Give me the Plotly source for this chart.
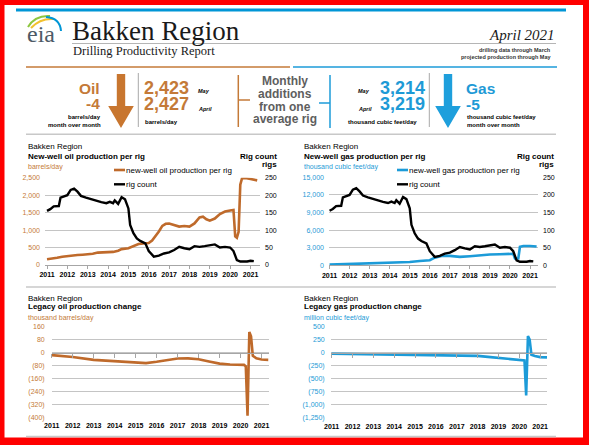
import plotly.graph_objects as go

W, H = 589, 445

# ---- data ------------------------------------------------------------------
oil_dates = ["2011-01-01", "2011-04-01", "2011-07-01", "2011-10-01", "2012-01-01", "2012-04-01",
             "2012-07-01", "2012-10-01", "2013-01-01", "2013-04-01", "2013-07-01", "2013-10-01",
             "2014-01-01", "2014-04-01", "2014-07-01", "2014-09-01", "2015-01-01", "2015-04-01",
             "2015-07-01", "2015-10-01", "2016-01-01", "2016-03-01", "2016-05-01", "2016-07-01",
             "2016-09-01", "2016-11-01", "2017-01-01", "2017-04-01", "2017-07-01", "2017-10-01",
             "2018-01-01", "2018-04-01", "2018-07-01", "2018-09-01", "2018-11-01", "2019-01-01",
             "2019-04-01", "2019-07-01", "2019-10-01", "2020-01-01", "2020-03-01", "2020-04-01",
             "2020-05-01", "2020-06-01", "2020-07-01", "2020-08-01", "2020-10-01", "2021-01-01",
             "2021-03-01", "2021-04-01", "2021-05-01"]
oil_newwell = [165, 180, 205, 235, 258, 275, 285, 295, 305, 320, 355, 368, 365, 375, 410, 455, 480,
               545, 600, 615, 630, 700, 820, 960, 1120, 1180, 1190, 1150, 1100, 1115, 1100, 1190,
               1360, 1385, 1310, 1270, 1330, 1460, 1530, 1560, 1575, 820, 780, 950, 2300, 2480,
               2490, 2460, 2440, 2427, 2423]

gas_dates = ["2011-01-01", "2012-01-01", "2013-01-01", "2014-01-01", "2015-01-01", "2015-07-01",
             "2016-01-01", "2016-04-01", "2016-08-01", "2017-01-01", "2017-07-01", "2018-01-01",
             "2018-07-01", "2019-01-01", "2019-07-01", "2020-01-01", "2020-03-01", "2020-04-01",
             "2020-05-01", "2020-06-01", "2020-07-01", "2020-09-01", "2021-01-01", "2021-03-01",
             "2021-04-01", "2021-05-01"]
gas_newwell = [110, 200, 290, 400, 570, 740, 860, 1300, 1600, 1600, 1430, 1545, 1720, 1830, 1890,
               1950, 1960, 1150, 1100, 1150, 3150, 3300, 3280, 3230, 3219, 3214]

rig_dates = ["2011-01-01", "2011-03-01", "2011-05-01", "2011-07-01", "2011-08-01", "2011-09-01",
             "2011-11-01", "2012-01-01", "2012-03-01", "2012-05-01", "2012-07-01", "2012-09-01",
             "2012-12-01", "2013-03-01", "2013-06-01", "2013-09-01", "2013-12-01", "2014-02-01",
             "2014-04-01", "2014-05-01", "2014-07-01", "2014-09-01", "2014-11-01", "2015-01-01",
             "2015-02-01", "2015-04-01", "2015-06-01", "2015-08-01", "2015-11-01", "2016-01-01",
             "2016-04-01", "2016-07-01", "2016-10-01", "2017-01-01", "2017-04-01", "2017-07-01",
             "2017-10-01", "2018-01-01", "2018-04-01", "2018-07-01", "2018-10-01", "2019-01-01",
             "2019-04-01", "2019-07-01", "2019-10-01", "2020-01-01", "2020-03-01", "2020-05-01",
             "2020-07-01", "2020-11-01", "2021-01-01", "2021-03-01"]
rig_count = [155, 160, 168, 170, 169, 193, 196, 200, 215, 219, 210, 198, 193, 188, 184, 180, 177,
             181, 177, 185, 175, 194, 188, 162, 115, 91, 76, 69, 62, 40, 24, 27, 33, 36, 43, 52,
             48, 45, 54, 52, 54, 57, 59, 50, 52, 50, 40, 14, 10, 10, 12, 11]

legacy_dates = ["2011-01-01", "2012-01-01", "2013-01-01", "2014-01-01", "2015-01-01", "2015-07-01",
                "2016-01-01", "2016-07-01", "2017-01-01", "2017-07-01", "2018-01-01", "2018-07-01",
                "2019-01-01", "2019-07-01", "2020-01-01", "2020-03-01", "2020-04-01", "2020-05-01",
                "2020-06-01", "2020-07-01", "2020-08-01", "2020-10-01", "2021-01-01", "2021-05-01"]
legacy_oil = [-16, -27, -45, -53, -62, -65, -57, -45, -37, -36, -41, -55, -68, -74, -75, -76, -85,
              -390, 127, 100, -20, -35, -43, -45]
legacy_gas = [-19, -25, -32, -40, -50, -52, -52, -52, -52, -55, -62, -80, -100, -115, -128, -135,
              -150, -820, 320, 250, -40, -65, -85, -90]

years = ["2011", "2012", "2013", "2014", "2015", "2016", "2017", "2018", "2019", "2020", "2021"]
oil_legacy_ticks = [160, 80, 0, -80, -160, -240, -320, -400]
oil_legacy_text = ["160", "80", "0", "(80)", "(160)", "(240)", "(320)", "(400)"]
gas_legacy_ticks = [500, 250, 0, -250, -500, -750, -1000, -1250]
gas_legacy_text = ["500", "250", "0", "(250)", "(500)", "(750)", "(1,000)", "(1,250)"]

# ---- styling -----------------------------------------------------------------
OIL = "#BF6A2B"
OIL_TXT = "#C47A38"
GAS = "#1C9BD8"
GAS_TXT = "#1E9AD6"
GRID = "#C4C4C4"
AXIS = "#A6A6A6"
SANS = "Liberation Sans, Arial, sans-serif"
SERIF = "Liberation Serif, Times New Roman, serif"


def px(x):
    return x / W


def py(y):
    return 1 - y / H


fig = go.Figure()

# ─── traces ───────────────────────────────────────────────────────
fig.add_trace(go.Scatter(x=oil_dates, y=oil_newwell, mode="lines", xaxis="x", yaxis="y",
                         line=dict(color=OIL, width=2.6)))
fig.add_trace(go.Scatter(x=rig_dates, y=rig_count, mode="lines", xaxis="x", yaxis="y2",
                         line=dict(color="black", width=2.4)))
fig.add_trace(go.Scatter(x=gas_dates, y=gas_newwell, mode="lines", xaxis="x2", yaxis="y3",
                         line=dict(color=GAS, width=2.6)))
fig.add_trace(go.Scatter(x=rig_dates, y=rig_count, mode="lines", xaxis="x2", yaxis="y4",
                         line=dict(color="black", width=2.4)))
# empty traces: zero-line axes + gridline axes of the lower charts
fig.add_trace(go.Scatter(x=[None], y=[None], xaxis="x5", yaxis="y7", hoverinfo="skip"))
fig.add_trace(go.Scatter(x=[None], y=[None], xaxis="x6", yaxis="y8", hoverinfo="skip"))
fig.add_trace(go.Scatter(x=legacy_dates, y=legacy_oil, mode="lines", xaxis="x3", yaxis="y5",
                         line=dict(color=OIL, width=2.6)))
fig.add_trace(go.Scatter(x=legacy_dates, y=legacy_gas, mode="lines", xaxis="x4", yaxis="y6",
                         line=dict(color=GAS, width=2.6)))

yearfont = dict(family=SANS, size=7, color="black", weight="bold")
year_tickvals = [y + "-01-01" for y in years]


def xaxis_top(x0, x1, anchor, rng):
    return dict(domain=[px(x0), px(x1)], anchor=anchor, type="date", range=rng,
                tickvals=year_tickvals, ticktext=years, ticks="outside", ticklen=3,
                tickcolor=AXIS, showline=True, linecolor=AXIS, linewidth=1,
                showgrid=False, tickfont=yearfont, fixedrange=True)


def xaxis_low(x0, x1, anchor, rng):
    return dict(domain=[px(x0), px(x1)], anchor=anchor, type="date", range=rng,
                tickvals=year_tickvals, ticktext=years, ticks="", showline=False,
                showgrid=False, tickfont=yearfont, ticklabelstandoff=3)


def xaxis_zero(over, ypos, rng):
    return dict(overlaying=over, anchor="free", position=py(ypos), type="date", range=rng,
                tickvals=year_tickvals, ticks="outside", ticklen=4, tickcolor=AXIS,
                showline=True, linecolor=AXIS, linewidth=1, showticklabels=False,
                showgrid=False)


def yaxis_grid(over, rng, vals):
    # gridlines only (the reference has none on the top tick)
    return dict(overlaying=over, anchor="free", position=0, range=rng, tickvals=vals,
                showticklabels=False, ticks="", showgrid=True, gridcolor=GRID,
                zeroline=False, layer="below traces")


r1 = ["2010-11-26", "2021-06-20"]
r2 = ["2010-12-22", "2021-05-26"]
r3 = ["2011-01-01", "2021-05-01"]
r4 = ["2010-12-15", "2021-05-01"]

fig.update_layout(
    xaxis=xaxis_top(45, 260, "y", r1),
    xaxis2=xaxis_top(329, 538, "y3", r2),
    xaxis3=xaxis_low(51.7, 268.5, "y5", r3),
    xaxis4=xaxis_low(330.7, 547, "y6", r4),
    xaxis5=xaxis_zero("x3", 352.6, r3),
    xaxis6=xaxis_zero("x4", 352.7, r4),
    yaxis=dict(domain=[py(265), py(177.7)], anchor="x", range=[0, 2500], dtick=500,
               tickformat=",", gridcolor=GRID, zeroline=False, ticks="",
               tickfont=dict(family=SANS, size=7, color=OIL_TXT), ticklabelstandoff=4),
    yaxis2=dict(overlaying="y", side="right", anchor="x", range=[0, 250], dtick=50,
                showgrid=False, zeroline=False, ticks="",
                tickfont=dict(family=SANS, size=7, color="black"), ticklabelstandoff=4),
    yaxis3=dict(domain=[py(265.3), py(177.3)], anchor="x2", range=[0, 15000], dtick=3000,
                tickformat=",", gridcolor=GRID, zeroline=False, ticks="",
                tickfont=dict(family=SANS, size=7, color=GAS_TXT), ticklabelstandoff=4),
    yaxis4=dict(overlaying="y3", side="right", anchor="x2", range=[0, 250], dtick=50,
                showgrid=False, zeroline=False, ticks="",
                tickfont=dict(family=SANS, size=7, color="black"), ticklabelstandoff=4),
    yaxis5=dict(domain=[py(417.3), py(326.7)], anchor="x3", range=[-400, 160],
                tickvals=oil_legacy_ticks, ticktext=oil_legacy_text, showgrid=False,
                zeroline=False, ticks="", ticklabelstandoff=6,
                tickfont=dict(family=SANS, size=7, color=OIL_TXT)),
    yaxis6=dict(domain=[py(417.7), py(326.7)], anchor="x4", range=[-1250, 500],
                tickvals=gas_legacy_ticks, ticktext=gas_legacy_text, showgrid=False,
                zeroline=False, ticks="", ticklabelstandoff=5,
                tickfont=dict(family=SANS, size=7, color=GAS_TXT)),
    yaxis7=yaxis_grid("y5", [-400, 160], oil_legacy_ticks[1:]),
    yaxis8=yaxis_grid("y6", [-1250, 500], gas_legacy_ticks[1:]),
)

# ─── shapes: frame, rules, arrows, logo, legend swatches ──────────
shapes = []


def rect(x0, y0, x1, y1, color):
    shapes.append(dict(type="rect", xref="paper", yref="paper", x0=px(x0), x1=px(x1),
                       y0=py(y1), y1=py(y0), fillcolor=color, line=dict(width=0)))


def hline(x0, x1, y, color, width=1):
    shapes.append(dict(type="line", xref="paper", yref="paper", x0=px(x0), x1=px(x1),
                       y0=py(y), y1=py(y), line=dict(color=color, width=width)))


def vline(x, y0, y1, color, width=1):
    shapes.append(dict(type="line", xref="paper", yref="paper", x0=px(x), x1=px(x),
                       y0=py(y0), y1=py(y1), line=dict(color=color, width=width)))


def path(points, color, closed=True):
    d = "M " + " L ".join(f"{px(a):.5f},{py(b):.5f}" for a, b in points)
    if closed:
        d += " Z"
    shapes.append(dict(type="path", xref="paper", yref="paper", path=d,
                       fillcolor=color, line=dict(color=color, width=0)))


def curve(p0, c, p1, color, width=2):
    d = (f"M {px(p0[0]):.5f},{py(p0[1]):.5f} Q {px(c[0]):.5f},{py(c[1]):.5f} "
         f"{px(p1[0]):.5f},{py(p1[1]):.5f}")
    shapes.append(dict(type="path", xref="paper", yref="paper", path=d,
                       line=dict(color=color, width=width)))


def arrow(cx, color):
    path([(cx - 4.2, 74), (cx + 4.2, 74), (cx + 4.2, 106), (cx + 12.8, 106),
          (cx, 128), (cx - 12.8, 106), (cx - 4.2, 106)], color)


# red frame
rect(0, 0, 589, 5, "#FF0000")
rect(0, 0, 4.5, 445, "#FF0000")
rect(583, 0, 589, 445, "#FF0000")
rect(0, 437.5, 589, 445, "#FF0000")

# header rules
hline(16, 566, 10, "#0096D6", 3)
hline(72, 556, 43.5, "#B5B5B5", 1)
hline(26, 290, 67, OIL_TXT, 1.5)
hline(293, 557, 67, GAS, 1.5)
hline(26, 556, 134.3, "#C8C8C8", 1.5)
hline(26, 556, 287, "#C8C8C8", 1.5)
hline(26, 556, 436.5, "#C8C8C8", 1.5)

# eia logo swooshes
curve((28, 27), (35, 15), (50, 16), "#8DC63F", 2)
curve((31, 28), (40, 18), (54, 19), "#F2C12E", 2)
curve((46, 17), (60, 18), (61, 31), "#0096D6", 2)

# oil / gas arrows and separators
arrow(121, "#C8762F")
arrow(448, "#1E9FDC")
vline(138.3, 73, 127, "#A8A8A8", 1)
vline(429.3, 73, 127, "#A8A8A8", 1)
vline(238.3, 75, 127, OIL_TXT, 1.5)
hline(238.3, 250, 100, OIL_TXT, 1.5)
vline(330, 75, 128, GAS, 1.5)
hline(319, 330, 103, GAS, 1.5)

# legend swatches
hline(114, 125, 170, OIL, 2.6)
hline(114, 125, 184.3, "black", 2.4)
hline(397, 408, 170, GAS, 2.6)
hline(397, 408, 184.3, "black", 2.4)

fig.update_layout(shapes=shapes)

# ─── annotations ─────────────────────────────────────────────────
ann = []


def text(s, x, y, size, color="black", anchor="left", family=SANS):
    ann.append(dict(text=s, x=px(x), y=py(y), xref="paper", yref="paper",
                    xanchor=anchor, yanchor="middle", showarrow=False,
                    font=dict(family=family, size=size, color=color), borderpad=0))


text("eia", 40.5, 34, 24, "#4D5A66", "center", SERIF)
text("Bakken Region", 71, 31, 27, "#1A1A1A", "left", SERIF)
text("Drilling Productivity Report", 72, 51.5, 12.5, "#1A1A1A", "left", SERIF)
text("<i>April 2021</i>", 556, 34.5, 15, "#1A1A1A", "right", SERIF)
text("<b>drilling data through March</b>", 552, 49.5, 5.5, "#333333", "right")
text("<b>projected production through May</b>", 552, 57.3, 5.5, "#333333", "right")

text("<b>Oil</b>", 101, 89, 15.5, OIL_TXT, "right")
text("<b>-4</b>", 101, 103.5, 15.5, OIL_TXT, "right")
text("<b>barrels/day</b>", 101.5, 116.5, 6, "black", "right")
text("<b>month over month</b>", 101.5, 125, 6, "black", "right")
text("<b>2,423</b>", 143, 87.5, 18, OIL_TXT)
text("<b><i>May</i></b>", 197, 90.5, 5.5)
text("<b>2,427</b>", 143, 104.5, 18, OIL_TXT)
text("<b><i>April</i></b>", 197, 108.5, 5.5)
text("<b>barrels/day</b>", 144, 122, 6)

for i, s in enumerate(["Monthly", "additions", "from one", "average rig"]):
    text(f"<b>{s}</b>", 285, 81 + i * 12.8, 12, "#5E5E5E", "center")

text("<b><i>May</i></b>", 357, 90.5, 5.5)
text("<b>3,214</b>", 379, 87.5, 18, GAS_TXT)
text("<b><i>April</i></b>", 357, 108.5, 5.5)
text("<b>3,219</b>", 379, 104.5, 18, GAS_TXT)
text("<b>thousand cubic feet/day</b>", 347, 122, 6)
text("<b>Gas</b>", 465, 88.5, 15.5, GAS_TXT)
text("<b>-5</b>", 465, 104.5, 15.5, GAS_TXT)
text("<b>thousand cubic feet/day</b>", 466, 117, 6)
text("<b>month over month</b>", 466, 125, 6)

# chart headings
for x0, x1, what, unit, col in [(27, 278, "oil", "barrels/day", OIL_TXT),
                                (303, 555, "gas", "thousand cubic feet/day", GAS_TXT)]:
    text("Bakken Region", x0, 146.5, 8)
    text(f"<b>New-well {what} production per rig</b>", x0, 156.5, 8)
    text(unit, x0, 167, 7, col)
    text("<b>Rig count</b>", x1, 156.5, 8, "black", "right")
    text("<b>rigs</b>", x1, 164.5, 8, "black", "right")

text("new-well oil production per rig", 125, 170, 8)
text("rig count", 125, 184.3, 8)
text("new-well gas production per rig", 408, 170, 8)
text("rig count", 408, 184.3, 8)

text("Bakken Region", 27, 298, 8)
text("<b>Legacy oil production change</b>", 27, 306.5, 8)
text("thousand barrels/day", 27, 318, 7, OIL_TXT)
text("Bakken Region", 303, 298, 8)
text("<b>Legacy gas production change</b>", 303, 306.5, 8)
text("million cubic feet/day", 303, 318, 7, GAS_TXT)

fig.update_layout(
    annotations=ann,
    width=W, height=H, autosize=False,
    margin=dict(l=0, r=0, t=0, b=0, pad=0, autoexpand=False),
    paper_bgcolor="white", plot_bgcolor="rgba(0,0,0,0)",
    showlegend=False,
    font=dict(family=SANS),
)

# the page body has a default 8px margin; remove it so the figure fills the window
fig.write_html("out.html", config={"displayModeBar": False},
               post_script="document.body.style.margin = '0';")
